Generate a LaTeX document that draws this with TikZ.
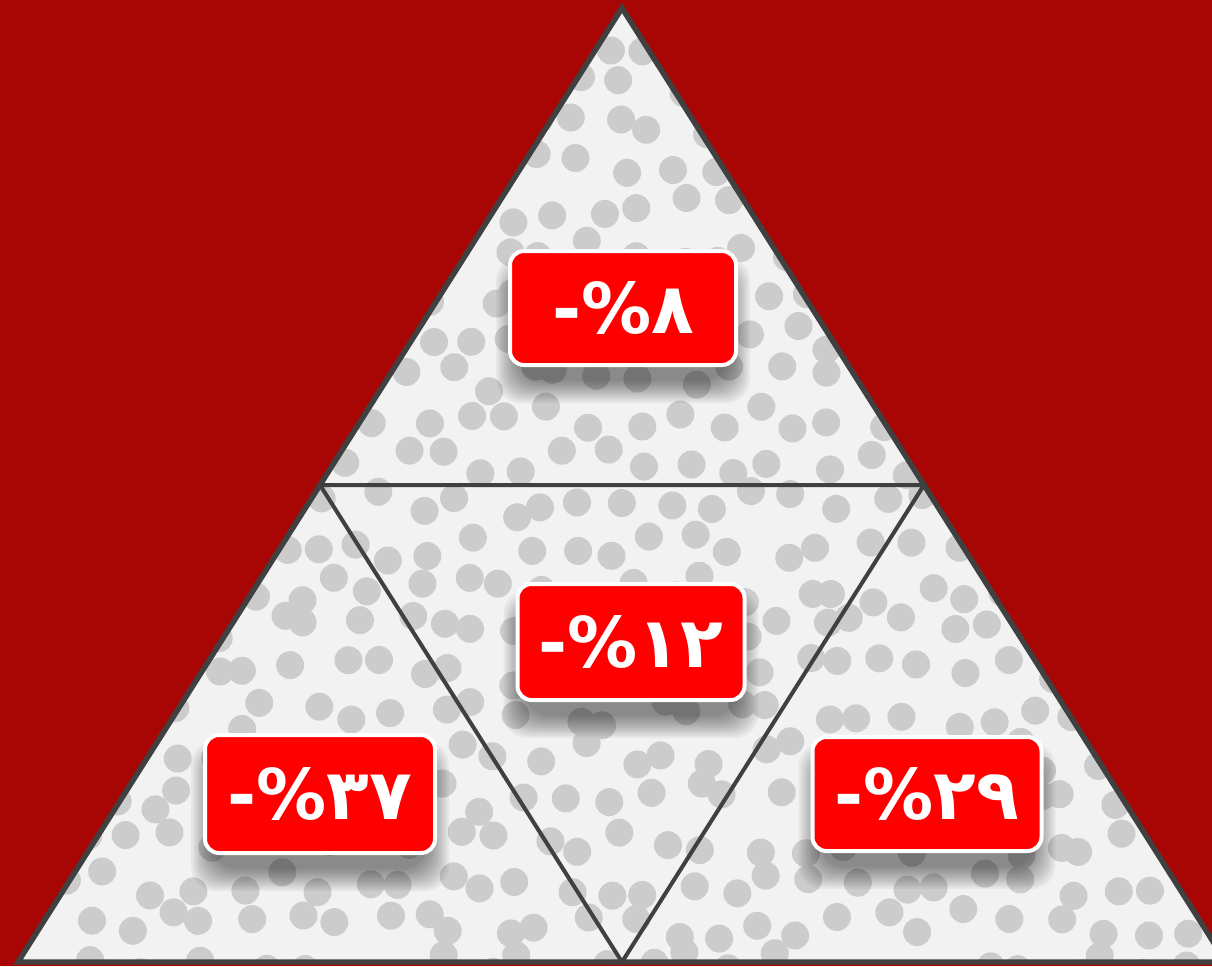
\documentclass[tikz,border=0pt]{standalone}
\usepackage{fontspec}
\newfontfamily\labelfont{DejaVu Sans}
\definecolor{bgred}{RGB}{168,6,4}
\definecolor{trifill}{RGB}{242,242,242}
\definecolor{dotgray}{RGB}{204,204,204}
\definecolor{edgegray}{RGB}{64,64,64}
\definecolor{tagred}{RGB}{255,0,0}
\tikzset{
  outeredge/.style={draw=edgegray, line width=2.7pt, line join=miter},
  inneredge/.style={draw=edgegray, line width=2pt, line join=miter},
  dot/.style={fill=dotgray},
  tag/.style={fill=tagred, draw=white, line width=2pt, rounded corners=7pt,
    inner sep=0pt, text=white, font=\labelfont\bfseries\fontsize{35}{38}\selectfont},
  shadowlayer/.style={fill=black, opacity=0.045, rounded corners=12pt}
}
\newcommand\tagshadow[4]{%
  \foreach \k in {0,...,11}{%
    \fill[shadowlayer] ({#1-#3/2-12+\k*2},{#2-#4/2+8+\k*2}) rectangle ({#1+#3/2+12-\k*2},{#2+#4/2+36-\k*2});
  }%
}
\begin{document}
\begin{tikzpicture}[x=0.5pt,y=-0.5pt]
\fill[bgred] (0,0) rectangle (1212,966);
\useasboundingbox (0,0) rectangle (1212,966);
\coordinate (A) at (622,8);
\coordinate (B) at (18,962);
\coordinate (C) at (1226,962);
\coordinate (MAB) at (320,485);
\coordinate (MAC) at (924,485);
\coordinate (MBC) at (622,962);
\begin{scope}
  \clip (A) -- (B) -- (C) -- cycle;
  \fill[trifill] (A) -- (B) -- (C) -- cycle;
  \pgfmathsetseed{4242}
  \foreach \i in {0,...,29}{
    \foreach \j in {0,...,23}{
      \pgfmathsetmacro\cx{\i*42 + mod(\j,2)*21 + 15*rand}
      \pgfmathsetmacro\cy{\j*42 + 15*rand}
      \fill[dot] (\cx,\cy) circle[radius=14];
    }
  }
  \tagshadow{623}{308}{230}{118}
  \tagshadow{631}{642}{231}{120}
  \tagshadow{320}{794}{234}{122}
  \tagshadow{927}{794}{233}{118}
\end{scope}
\draw[inneredge] (MAB) -- (MAC) -- (MBC) -- cycle;
\draw[outeredge] (A) -- (B) -- (C) -- cycle;
\node[tag, minimum width=113pt, minimum height=57pt] (t8) at (623,308) {-\%۸};
\node[tag, minimum width=113.5pt, minimum height=58pt] (t12) at (631,642) {-\%۱۲};
\node[tag, minimum width=115pt, minimum height=59pt] (t37) at (320,794) {-\%۳۷};
\node[tag, minimum width=114.5pt, minimum height=57pt] (t29) at (927,794) {-\%۲۹};
\end{tikzpicture}
\end{document}
